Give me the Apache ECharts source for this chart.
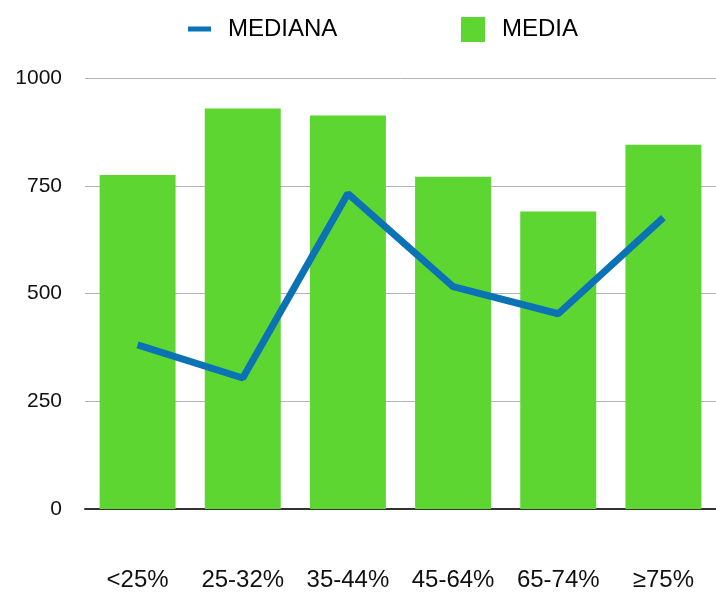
<!DOCTYPE html>
<html>
<head>
<meta charset="utf-8">
<script src="https://cdn.jsdelivr.net/npm/echarts@6/dist/echarts.min.js"></script>
<style>
  html, body { margin: 0; padding: 0; background: #fff; }
  #chart { width: 716px; height: 593px; }
</style>
</head>
<body>
<div id="chart"></div>
<script>
const categories = ['<25%', '25-32%', '35-44%', '45-64%', '65-74%', '≥75%'];
const mediaValues = [775, 929, 913, 771, 690, 845];
const medianaValues = [381, 304, 732, 516, 453, 676];
const yTicks = [0, 250, 500, 750, 1000];

const font = 'Liberation Sans, Arial, Helvetica, sans-serif';

const chart = echarts.init(document.getElementById('chart'));
chart.setOption({
    animation: false,
    backgroundColor: '#fff',
    legend: [
        {
            data: ['MEDIANA'],
            left: 183,
            top: 12,
            icon: 'rect',
            itemWidth: 23,
            itemHeight: 5,
            textStyle: { fontFamily: font, fontSize: 24, color: '#000', padding: [0, 0, 0, 12] }
        },
        {
            data: ['MEDIA'],
            left: 456,
            top: 12,
            icon: 'rect',
            itemWidth: 24,
            itemHeight: 25,
            textStyle: { fontFamily: font, fontSize: 24, color: '#000', padding: [0, 0, 0, 12] }
        }
    ],
    grid: { left: 85, right: 0, top: 78, bottom: 84 },
    xAxis: {
        type: 'category',
        data: categories,
        axisTick: { show: false },
        axisLine: { lineStyle: { color: '#333', width: 2 } },
        axisLabel: { interval: 0, margin: 59, fontFamily: font, fontSize: 24, color: '#111' }
    },
    yAxis: {
        type: 'value',
        min: yTicks[0],
        max: yTicks[yTicks.length - 1],
        interval: 250,
        axisLine: { show: false },
        axisTick: { show: false },
        splitLine: { lineStyle: { color: '#b4b4b4', width: 1 } },
        axisLabel: {
            margin: 23,
            fontFamily: font,
            fontSize: 21,
            color: '#111',
            formatter: v => String(v)
        }
    },
    series: [
        {
            name: 'MEDIA',
            type: 'bar',
            data: mediaValues,
            barWidth: 76,
            itemStyle: { color: '#5dd632' },
            z: 1
        },
        {
            name: 'MEDIANA',
            type: 'line',
            data: medianaValues,
            showSymbol: false,
            symbol: 'none',
            lineStyle: { color: '#0a72b5', width: 7 },
            itemStyle: { color: '#0a72b5' },
            z: 3
        }
    ]
});
</script>
</body>
</html>
